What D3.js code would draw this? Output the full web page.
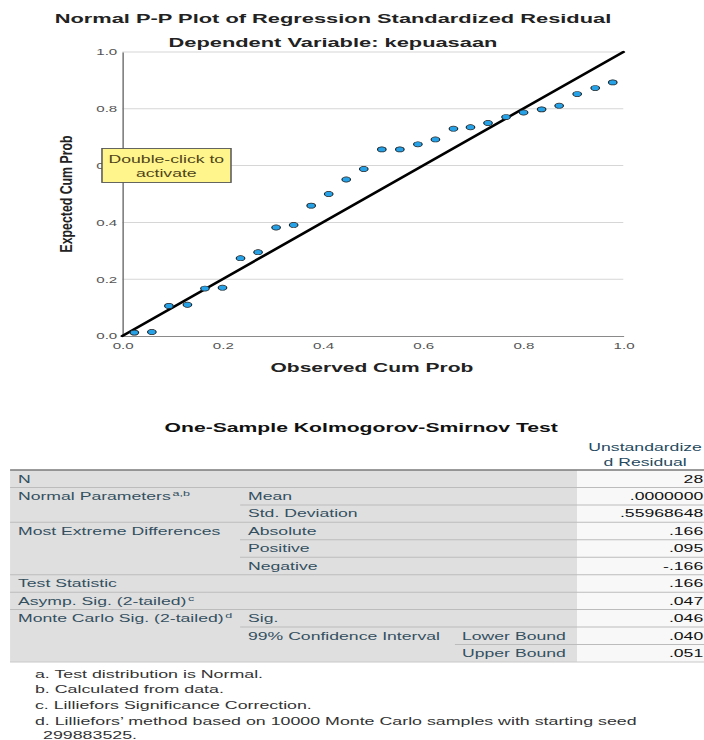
<!DOCTYPE html>
<html>
<head>
<meta charset="utf-8">
<script src="https://cdn.jsdelivr.net/npm/d3@7"></script>
<style>
  body { margin: 0; background: #fff; }
  svg { display: block; font-family: "Liberation Sans", Arial, sans-serif; }
</style>
</head>
<body>
<svg id="sg"></svg>
<script>
// P-P plot points
const observedCum = [0.024, 0.059, 0.093, 0.130, 0.165, 0.200, 0.236, 0.271, 0.307, 0.342,
  0.377, 0.412, 0.447, 0.482, 0.518, 0.554, 0.590, 0.625, 0.661, 0.695,
  0.730, 0.766, 0.801, 0.837, 0.872, 0.908, 0.944, 0.979];
const expectedCum = [0.012, 0.014, 0.106, 0.110, 0.167, 0.170, 0.274, 0.295, 0.382, 0.391,
  0.459, 0.500, 0.551, 0.588, 0.657, 0.657, 0.675, 0.692, 0.730, 0.735,
  0.750, 0.771, 0.787, 0.798, 0.811, 0.852, 0.873, 0.893];
const tickValues = [0, 0.2, 0.4, 0.6, 0.8, 1.0];

// K-S test table
const rowLabels = ["N", "Normal Parameters", "", "Most Extreme Differences", "", "",
  "Test Statistic", "Asymp. Sig. (2-tailed)", "Monte Carlo Sig. (2-tailed)", "", ""];
const rowSups = ["", "a,b", "", "", "", "", "", "c", "d", "", ""];
const subLabels = ["", "Mean", "Std. Deviation", "Absolute", "Positive", "Negative",
  "", "", "Sig.", "99% Confidence Interval", ""];
const boundLabels = ["", "", "", "", "", "", "", "", "", "Lower Bound", "Upper Bound"];
const residualValues = ["28", ".0000000", ".55968648", ".166", ".095", "-.166",
  ".166", ".047", ".046", ".040", ".051"];
const footnotes = ["a. Test distribution is Normal.", "b. Calculated from data.",
  "c. Lilliefors Significance Correction.",
  "d. Lilliefors\u2019 method based on 10000 Monte Carlo samples with starting seed",
  "299883525."];

// the picture is stretched sideways, so draw in a narrower space and stretch it
let sx = 1.68;
let svgWidth = 704, svgHeight = 740;
let vw = svgWidth / sx;

let svg = d3.select("#sg")
  .attr("width", svgWidth)
  .attr("height", svgHeight)
  .attr("viewBox", "0 0 " + vw + " " + svgHeight)
  .attr("preserveAspectRatio", "none");

// ---- plot ----
let x = d3.scaleLinear().domain([0, 1]).range([72.8, 371]);
let y = d3.scaleLinear().domain([0, 1]).range([336, 52]);

svg.append("text").attr("x", 198.2).attr("y", 23)
  .attr("text-anchor", "middle").attr("font-size", 13).attr("font-weight", "bold")
  .attr("fill", "#222").text("Normal P-P Plot of Regression Standardized Residual");
svg.append("text").attr("x", 198.2).attr("y", 47)
  .attr("text-anchor", "middle").attr("font-size", 13).attr("font-weight", "bold")
  .attr("fill", "#222").text("Dependent Variable: kepuasaan");

// gridlines
svg.append("g")
  .selectAll("line")
  .data(tickValues.slice(1))
  .join("line")
  .attr("x1", x(0)).attr("x2", x(1))
  .attr("y1", d => y(d)).attr("y2", d => y(d))
  .attr("stroke", "#d6d6d6").attr("stroke-width", 1);

let yAxis = d3.axisLeft(y).tickValues(tickValues).tickFormat(d3.format(".1f")).tickSize(0).tickPadding(3);
let xAxis = d3.axisBottom(x).tickValues(tickValues).tickFormat(d3.format(".1f")).tickSize(0).tickPadding(7);

let gy = svg.append("g").attr("transform", "translate(" + x(0) + ",0)").call(yAxis);
let gx = svg.append("g").attr("transform", "translate(0," + y(0) + ")").call(xAxis);
[gx, gy].forEach(function(g) {
  g.select(".domain").attr("stroke", "#8a8a8a").attr("stroke-width", 1);
  g.selectAll("text").attr("font-size", 9).attr("fill", "#555")
    .attr("font-family", "'Liberation Sans', Arial, sans-serif");
});
gy.select(".domain").attr("stroke", "#777").attr("stroke-width", 0.9);

// reference diagonal
svg.append("line")
  .attr("x1", x(0)).attr("y1", y(0)).attr("x2", x(1)).attr("y2", y(1))
  .attr("stroke", "#000").attr("stroke-width", 2.2).attr("stroke-linecap", "round");

let pts = observedCum.map((d, i) => ({ o: d, e: expectedCum[i] }));
svg.append("g")
  .selectAll("circle")
  .data(pts)
  .join("circle")
  .attr("cx", d => x(d.o))
  .attr("cy", d => y(d.e))
  .attr("r", 2.55)
  .attr("fill", "#26a2e8")
  .attr("stroke", "#222")
  .attr("stroke-width", 0.7);

svg.append("text").attr("x", 221.4).attr("y", 372)
  .attr("text-anchor", "middle").attr("font-size", 12.5).attr("font-weight", "bold")
  .attr("fill", "#222").text("Observed Cum Prob");
svg.append("text")
  .attr("transform", "translate(42.8,194) rotate(-90)")
  .attr("text-anchor", "middle").attr("font-size", 9.5).attr("font-weight", "bold")
  .attr("textLength", 117).attr("lengthAdjust", "spacingAndGlyphs")
  .attr("fill", "#222").text("Expected Cum Prob");

// "Double-click to activate" note (sits over the 0.6 tick label, as in the original)
let note = svg.append("g");
note.append("rect").attr("x", 60.7).attr("y", 148.5).attr("width", 76.8).attr("height", 34)
  .attr("fill", "#fff58c").attr("stroke", "#555").attr("stroke-width", 0.9);
note.selectAll("text")
  .data(["Double-click to", "activate"])
  .join("text")
  .attr("x", 99).attr("y", (d, i) => 163 + i * 14)
  .attr("text-anchor", "middle").attr("font-size", 10.5).attr("fill", "#4f4418")
  .text(d => d);

// ---- table ----
let tableTop = 470, rowH = 17.45;
let c1 = 6, c2 = 142.9, c3 = 270.8, c4 = 343.5, right = vw;

svg.append("text").attr("x", 215).attr("y", 432)
  .attr("text-anchor", "middle").attr("font-size", 12.6).attr("font-weight", "bold")
  .attr("fill", "#111").text("One-Sample Kolmogorov-Smirnov Test");
svg.selectAll(".hdr")
  .data(["Unstandardize", "d Residual"])
  .join("text").attr("class", "hdr")
  .attr("x", 384).attr("y", (d, i) => 451 + i * 15)
  .attr("text-anchor", "middle").attr("font-size", 10.5).attr("fill", "#264a60")
  .text(d => d);

let nRows = residualValues.length;
svg.append("rect").attr("x", c1).attr("y", tableTop).attr("width", c4 - c1).attr("height", nRows * rowH)
  .attr("fill", "#dfdfdf");
svg.append("rect").attr("x", c4).attr("y", tableTop).attr("width", right - c4).attr("height", nRows * rowH)
  .attr("fill", "#f8f8f8");

// row separators start at the first filled label column
let seps = d3.range(1, nRows).map(function(i) {
  let start = rowLabels[i] ? c1 : (subLabels[i] ? c2 : c3);
  return { i: i, start: start };
});
svg.append("g")
  .selectAll("line")
  .data(seps)
  .join("line")
  .attr("x1", d => d.start).attr("x2", right)
  .attr("y1", d => tableTop + d.i * rowH).attr("y2", d => tableTop + d.i * rowH)
  .attr("stroke", "#bcbcbc").attr("stroke-width", 1);
svg.append("line").attr("x1", c1).attr("x2", right).attr("y1", tableTop).attr("y2", tableTop)
  .attr("stroke", "#7a7a7a").attr("stroke-width", 1.3);
svg.append("line").attr("x1", c1).attr("x2", right)
  .attr("y1", tableTop + nRows * rowH).attr("y2", tableTop + nRows * rowH)
  .attr("stroke", "#c8c8c8").attr("stroke-width", 1);

let rows = svg.append("g").attr("font-size", 10.5);
let base = i => tableTop + i * rowH + 12.6;

let lab = rows.selectAll(".lab")
  .data(rowLabels)
  .join("text").attr("class", "lab")
  .attr("x", 10.7).attr("y", (d, i) => base(i)).attr("fill", "#34505f")
  .text(d => d);
lab.each(function(d, i) {
  if (rowSups[i]) {
    d3.select(this).append("tspan").attr("font-size", 7.5).attr("dx", 1).attr("dy", -4)
      .text(rowSups[i]);
  }
});

rows.selectAll(".sub")
  .data(subLabels)
  .join("text").attr("class", "sub")
  .attr("x", 147.6).attr("y", (d, i) => base(i)).attr("fill", "#34505f")
  .text(d => d);
rows.selectAll(".bnd")
  .data(boundLabels)
  .join("text").attr("class", "bnd")
  .attr("x", 275).attr("y", (d, i) => base(i)).attr("fill", "#34505f")
  .text(d => d);
rows.selectAll(".val")
  .data(residualValues)
  .join("text").attr("class", "val")
  .attr("x", 418.6).attr("y", (d, i) => base(i)).attr("text-anchor", "end").attr("fill", "#111")
  .text(d => d);

svg.append("g")
  .selectAll("text")
  .data(footnotes)
  .join("text")
  .attr("x", (d, i) => i === 4 ? 25.6 : 20.8)
  .attr("y", (d, i) => [678, 693, 709, 725, 739][i])
  .attr("font-size", 10.6).attr("fill", "#333")
  .text(d => d);
</script>
</body>
</html>
